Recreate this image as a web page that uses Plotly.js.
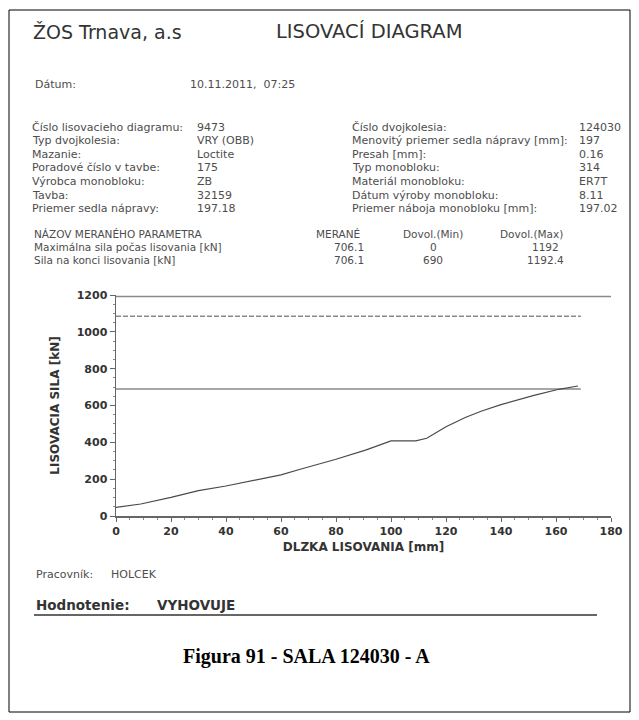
<!DOCTYPE html>
<html>
<head>
<meta charset="utf-8">
<script src="https://cdn.plot.ly/plotly-3.0.1.min.js"></script>
<style>
html,body{margin:0;padding:0;background:#fff;}
#chart{width:639px;height:720px;}
</style>
</head>
<body>
<div id="chart"></div>
<script>
// ---- data ----
const lengthMm = [0, 9, 20, 30, 40, 49, 60, 67, 80, 91, 100, 109, 113, 120, 127, 133, 140, 152, 161, 168];
const forceKN  = [47, 65, 101, 138, 163, 190, 223, 254, 308, 359, 408, 408, 422, 485, 535, 570, 605, 655, 688, 706];
const maxLineX = [0, 180];
const maxLineY = [1192, 1192];
const dashLineX = [0, 169];
const dashLineY = [1085, 1085];
const minLineX = [0, 169];
const minLineY = [690, 690];
const xTicks = [0, 20, 40, 60, 80, 100, 120, 140, 160, 180];
const yTicks = [0, 200, 400, 600, 800, 1000, 1200];

const leftLabels = ['Číslo lisovacieho diagramu:', 'Typ dvojkolesia:', 'Mazanie:', 'Poradové číslo v tavbe:', 'Výrobca monobloku:', 'Tavba:', 'Priemer sedla nápravy:'];
const leftValues = ['9473', 'VRY (OBB)', 'Loctite', '175', 'ZB', '32159', '197.18'];
const rightLabels = ['Číslo dvojkolesia:', 'Menovitý priemer sedla nápravy [mm]:', 'Presah [mm]:', 'Typ monobloku:', 'Materiál monobloku:', 'Dátum výroby monobloku:', 'Priemer náboja monobloku [mm]:'];
const rightValues = ['124030', '197', '0.16', '314', 'ER7T', '8.11', '197.02'];
const tableHeader = ['NÁZOV MERANÉHO PARAMETRA', 'MERANÉ', 'Dovol.(Min)', 'Dovol.(Max)'];
const tableRows = [
  ['Maximálna sila počas lisovania [kN]', '706.1', '0', '1192'],
  ['Sila na konci lisovania [kN]', '706.1', '690', '1192.4']
];

// ---- pixel -> paper helpers (plot area: x 116..611, y 295..516) ----
const L = 116, R = 611, T = 295, B = 516;
const px = v => (v - L) / (R - L);
const py = v => (B - v) / (B - T);
const SANS = 'DejaVu Sans, Verdana, sans-serif';

const ann = [];
function txt(text, x, y, opt) {
  opt = opt || {};
  ann.push({
    text: text, xref: 'paper', yref: 'paper', x: px(x), y: py(y),
    xanchor: opt.xa || 'left', yanchor: 'middle', showarrow: false,
    font: {family: opt.family || SANS, size: opt.size || 11, color: opt.color || '#4d4d4d'}
  });
}

txt('ŽOS Trnava, a.s', 31, 32, {size: 19, color: '#333'});
txt('LISOVACÍ DIAGRAM', 274, 32, {size: 19.5, color: '#333'});
txt('Dátum:', 33, 84);
txt('10.11.2011,  07:25', 188, 84);

const rowY0 = 127, rowStep = 13.6;
leftLabels.forEach((s, i) => txt(s, 30, rowY0 + i * rowStep));
leftValues.forEach((s, i) => txt(s, 195, rowY0 + i * rowStep));
rightLabels.forEach((s, i) => txt(s, 350, rowY0 + i * rowStep));
rightValues.forEach((s, i) => txt(s, 577, rowY0 + i * rowStep));

const colX = [32, 338, 433, 531];
const colA = ['left', 'center', 'center', 'center'];
tableHeader.forEach((s, i) => txt(s, colX[i], 234, {xa: colA[i], size: 10.5}));
const valX = [32, 366, 433, 545];
const valA = ['left', 'right', 'center', 'center'];
tableRows.forEach((r, j) => r.forEach((s, i) => txt(s, valX[i], 247 + j * 12.5, {xa: valA[i], size: 10.5})));

txt('Pracovník:', 34, 574);
txt('HOLCEK', 109, 574);
txt('<b>Hodnotenie:</b>', 34, 605, {size: 13.5, color: '#333'});
txt('<b>VYHOVUJE</b>', 155, 605, {size: 13.5, color: '#333'});
txt('<b>Figura 91 - SALA 124030 - A</b>', 306, 656, {xa: 'center', size: 20, color: '#000', family: 'Liberation Serif, Times New Roman, serif'});

const shapes = [
  {type: 'rect', xref: 'paper', yref: 'paper', x0: px(9), x1: px(630), y0: py(712), y1: py(10), line: {color: '#000', width: 1}},
  {type: 'line', xref: 'paper', yref: 'paper', x0: px(34), x1: px(597), y0: py(615), y1: py(615), line: {color: '#333', width: 1.5}}
];

const traces = [
  {x: maxLineX, y: maxLineY, mode: 'lines', line: {color: '#8a8a8a', width: 1.5}, hoverinfo: 'skip', name: 'max'},
  {x: dashLineX, y: dashLineY, mode: 'lines', line: {color: '#8a8a8a', width: 1.5, dash: '5px,2px'}, hoverinfo: 'skip', name: 'limit'},
  {x: minLineX, y: minLineY, mode: 'lines', line: {color: '#8a8a8a', width: 1.5}, hoverinfo: 'skip', name: 'min'},
  {x: lengthMm, y: forceKN, mode: 'lines', line: {color: '#4a4a4a', width: 1.2}, name: 'sila'}
];

const axisFont = {family: SANS, size: 11, color: '#333'};
const titleFont = {family: SANS, size: 12, color: '#333'};
const layout = {
  width: 639, height: 720,
  margin: {l: L, r: 639 - R, t: T, b: 720 - B, pad: 0},
  paper_bgcolor: '#fff', plot_bgcolor: '#fff',
  showlegend: false,
  xaxis: {
    range: [0, 180], tickvals: xTicks, ticktext: xTicks.map(v => '<b>' + v + '</b>'),
    showgrid: false, zeroline: false, showline: true, linecolor: '#666', linewidth: 1.5,
    ticks: 'outside', ticklen: 4, tickcolor: '#666', tickfont: axisFont,
    minor: {dtick: 5, ticks: 'outside', ticklen: 2, tickcolor: '#888', showgrid: false},
    title: {text: '<b>DLZKA LISOVANIA [mm]</b>', font: titleFont, standoff: 6},
    fixedrange: true
  },
  yaxis: {
    range: [0, 1200], tickvals: yTicks, ticktext: yTicks.map(v => '<b>' + v + '</b>'),
    showgrid: false, zeroline: false, showline: true, linecolor: '#666', linewidth: 1.5,
    ticks: 'outside', ticklen: 5, tickcolor: '#666', tickfont: axisFont,
    minor: {dtick: 50, ticks: 'outside', ticklen: 2, tickcolor: '#888', showgrid: false},
    title: {text: '<b>LISOVACIA SILA [kN]</b>', font: titleFont, standoff: 14},
    fixedrange: true
  },
  annotations: ann,
  shapes: shapes
};

Plotly.newPlot('chart', traces, layout, {staticPlot: true, displayModeBar: false});
</script>
</body>
</html>
